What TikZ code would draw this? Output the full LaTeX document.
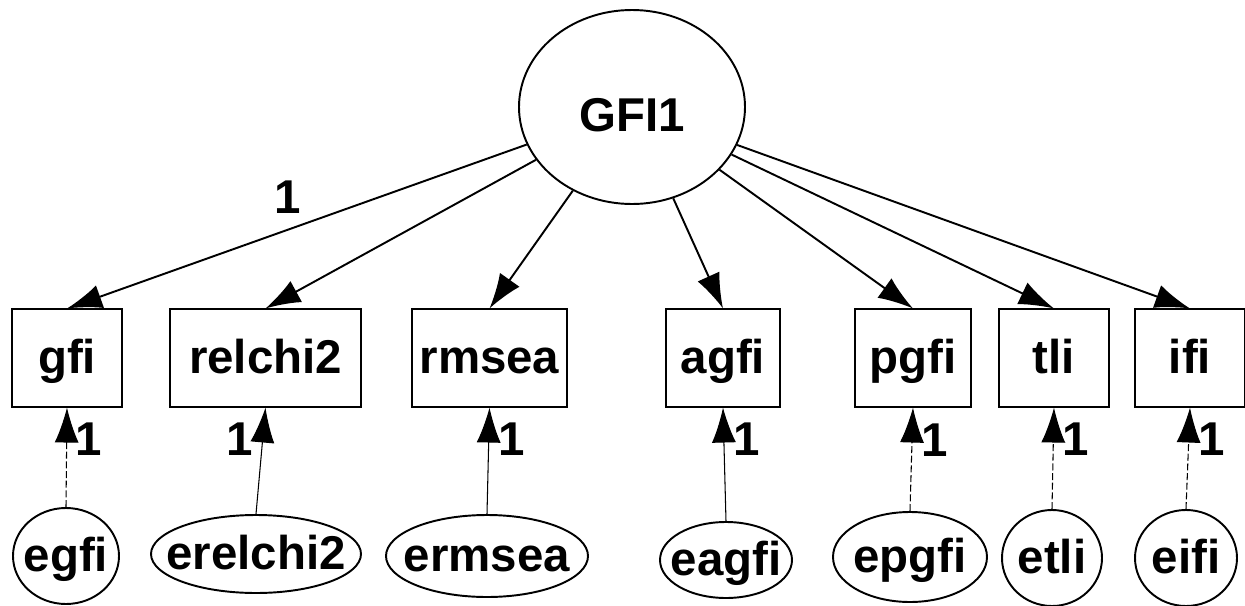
\documentclass[tikz,border=0pt]{standalone}
\usepackage{fontspec}
\setmainfont{Liberation Sans}
\usepackage{tikz}
\usetikzlibrary{shapes.geometric}
\usetikzlibrary{arrows.meta}

\tikzset{
  lat/.style={ellipse,draw,line width=1.1pt,inner sep=0pt,text height=34pt,text depth=6pt},
  obs/.style={rectangle,draw,line width=0.6pt,inner sep=0pt,minimum height=1.96cm},
  err/.style={ellipse,draw,line width=1.1pt,inner sep=0pt},
  load/.style={line width=1.1pt,-{Latex[length=7mm,width=4.8mm]}},
  eload/.style={line width=0.6pt,-{Latex[length=7mm,width=4.8mm]}},
  dload/.style={eload,dash pattern=on 4pt off 1.5pt},
  lab/.style={inner sep=5pt}
}

\begin{document}
\begin{tikzpicture}[font=\fontsize{27}{30}\selectfont\bfseries,text height=22pt,text depth=4pt]
  \useasboundingbox (0,0) rectangle (24.9,-12.12);
  % factor
  \node[lat,minimum width=4.52cm,minimum height=3.88cm] (GFI) at (12.64,-2.14) {GFI1};
  % indicators
  \node[obs,minimum width=2.2cm]  (gfi)     at (1.34,-7.16)  {gfi};
  \node[obs,minimum width=3.82cm] (relchi2) at (5.31,-7.16)  {relchi2};
  \node[obs,minimum width=3.1cm]  (rmsea)   at (9.79,-7.16)  {rmsea};
  \node[obs,minimum width=2.28cm] (agfi)    at (14.46,-7.16) {agfi};
  \node[obs,minimum width=2.32cm] (pgfi)    at (18.26,-7.16) {pgfi};
  \node[obs,minimum width=2.2cm]  (tli)     at (21.08,-7.16) {tli};
  \node[obs,minimum width=2.2cm]  (ifi)     at (23.8,-7.16)  {ifi};
  % errors
  \node[err,minimum width=2.12cm,minimum height=1.92cm] (egfi)     at (1.32,-11.12)  {\makebox[0pt]{egfi}};
  \node[err,minimum width=4.2cm,minimum height=1.56cm]  (erelchi2) at (5.12,-11.08)  {\makebox[0pt]{erelchi2}};
  \node[err,minimum width=4.04cm,minimum height=1.64cm] (ermsea)   at (9.74,-11.12)  {\makebox[0pt]{ermsea}};
  \node[err,minimum width=2.64cm,minimum height=1.52cm] (eagfi)    at (14.52,-11.2)  {\makebox[0pt]{eagfi}};
  \node[err,minimum width=3.08cm,minimum height=1.8cm]  (epgfi)    at (18.2,-11.14)  {\makebox[0pt]{epgfi}};
  \node[err,minimum width=2.0cm,minimum height=1.92cm]  (etli)     at (21.04,-11.16) {\makebox[0pt]{etli}};
  \node[err,minimum width=2.04cm,minimum height=1.92cm] (eifi)     at (23.72,-11.16) {\makebox[0pt]{eifi}};
  % loadings
  \draw[load] (GFI) -- node[lab,pos=0.52,above] {1} (gfi.north);
  \foreach \v in {relchi2,rmsea,agfi,pgfi,tli,ifi}
    \draw[load] (GFI) -- (\v.north);
  % error paths
  \draw[dload] (egfi.north) -- node[lab,pos=0.68,right] {1} (gfi.south);
  \draw[eload] (erelchi2.north) -- node[lab,pos=0.7,left] {1} (relchi2.south);
  \draw[eload] (ermsea.north) -- node[lab,pos=0.7,right] {1} (rmsea.south);
  \draw[eload] (eagfi.north) -- node[lab,pos=0.72,right] {1} (agfi.south);
  \draw[dload] (epgfi.north) -- node[lab,pos=0.68,right] {1} (pgfi.south);
  \draw[dload] (etli.north) -- node[lab,pos=0.68,right] {1} (tli.south);
  \draw[dload] (eifi.north) -- node[lab,pos=0.68,right] {1} (ifi.south);
\end{tikzpicture}
\end{document}
